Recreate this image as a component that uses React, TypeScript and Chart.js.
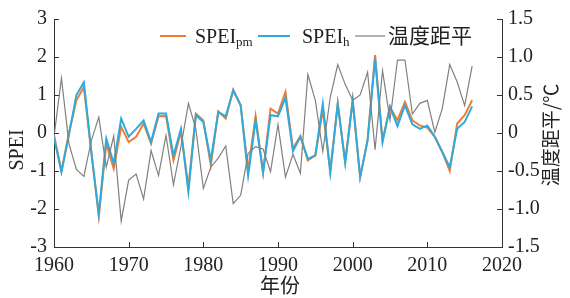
import React, { useEffect, useRef } from "react";
import { Chart, registerables } from "chart.js";

Chart.register(...registerables);

const years: number[] = [];
for (let y = 1960; y <= 2016; y++) years.push(y);

const speiPm = [
  -0.05, -1.0, 0.0, 0.86, 1.21, -0.5, -2.2, -0.28, -0.94, 0.16,
  -0.24, -0.1, 0.25, -0.28, 0.44, 0.45, -0.72, 0.03, -1.42, 0.51,
  0.33, -0.85, 0.57, 0.38, 1.14, 0.73, -0.98, 0.44, -1.03, 0.64,
  0.51, 1.08, -0.41, -0.08, -0.72, -0.59, 0.6, -1.0, 0.77, -0.76,
  0.86, -1.16, -0.19, 2.05, -0.2, 0.69, 0.33, 0.82, 0.33, 0.2,
  0.14, -0.1, -0.5, -1.0, 0.25, 0.47, 0.86,
];

const speiH = [
  -0.12, -1.03, -0.05, 1.0, 1.33, -0.5, -2.13, -0.15, -0.8, 0.38,
  -0.1, 0.11, 0.33, -0.24, 0.51, 0.51, -0.59, 0.11, -1.55, 0.47,
  0.29, -0.72, 0.55, 0.44, 1.12, 0.73, -1.12, 0.33, -1.05, 0.47,
  0.44, 0.93, -0.48, -0.1, -0.68, -0.59, 0.77, -1.05, 0.77, -0.79,
  0.86, -1.16, -0.19, 1.96, -0.24, 0.69, 0.18, 0.73, 0.23, 0.11,
  0.2, -0.1, -0.5, -0.9, 0.11, 0.29, 0.7,
];

const tempAnom = [
  -0.05, 0.72, -0.14, -0.48, -0.57, -0.1, 0.21, -0.45, -0.04, -1.16,
  -0.62, -0.54, -0.87, -0.23, -0.56, -0.03, -0.68, -0.18, 0.39, 0.05,
  -0.73, -0.45, -0.33, -0.17, -0.93, -0.82, -0.27, -0.18, -0.21, -0.51,
  0.11, -0.58, -0.28, -0.53, 0.77, 0.43, -0.24, 0.47, 0.9, 0.64,
  0.43, 0.5, 0.8, -0.22, 0.82, 0.17, 0.96, 0.96, 0.25, 0.39,
  0.43, 0.01, 0.32, 0.9, 0.67, 0.36, 0.88,
];

const leftTitle = "SPEI";
const rightTitle = "温度距平/℃";
const xTitle = "年份";
const legendItems = [
  { main: "SPEI", sub: "pm", color: "#F07D32", width: 2, x0: 160, x1: 186, tx: 195, cjk: false },
  { main: "SPEI", sub: "h", color: "#2EAADC", width: 2, x0: 258, x1: 290, tx: 302, cjk: false },
  { main: "温度距平", sub: "", color: "#808080", width: 1.2, x0: 355, x1: 385, tx: 388, cjk: true },
];

const SERIF = "'Liberation Serif', 'Times New Roman', 'Noto Sans CJK SC', serif";
const CJK = "'Noto Sans CJK SC', 'Liberation Serif', serif";
const AXIS = "#333333";

const decorPlugin = {
  id: "decor",
  afterDraw(chart: any) {
    const { ctx, chartArea, scales } = chart;
    const { left, right, bottom } = chartArea;
    ctx.save();
    ctx.strokeStyle = AXIS;
    ctx.lineWidth = 1;
    const tl = 5;
    scales.x.ticks.forEach((t: any) => {
      const px = Math.round(scales.x.getPixelForValue(t.value)) + 0.5;
      ctx.beginPath();
      ctx.moveTo(px, bottom);
      ctx.lineTo(px, bottom - tl);
      ctx.stroke();
    });
    scales.y.ticks.forEach((t: any) => {
      const py = Math.round(scales.y.getPixelForValue(t.value)) + 0.5;
      ctx.beginPath();
      ctx.moveTo(left, py);
      ctx.lineTo(left + tl, py);
      ctx.stroke();
    });
    scales.y1.ticks.forEach((t: any) => {
      const py = Math.round(scales.y1.getPixelForValue(t.value)) + 0.5;
      ctx.beginPath();
      ctx.moveTo(right, py);
      ctx.lineTo(right - tl, py);
      ctx.stroke();
    });

    ctx.fillStyle = "#222222";
    ctx.save();
    ctx.translate(18, 150);
    ctx.rotate(-Math.PI / 2);
    ctx.font = `20px ${SERIF}`;
    ctx.textAlign = "center";
    ctx.textBaseline = "middle";
    ctx.fillText(leftTitle, 0, 0);
    ctx.restore();

    ctx.save();
    ctx.translate(551, 135);
    ctx.rotate(-Math.PI / 2);
    ctx.font = `19px ${CJK}`;
    ctx.textAlign = "center";
    ctx.textBaseline = "middle";
    ctx.fillText(rightTitle, 0, 0);
    ctx.restore();

    ctx.font = `20px ${CJK}`;
    ctx.textAlign = "center";
    ctx.textBaseline = "middle";
    ctx.fillText(xTitle, (left + right) / 2 + 2, 285);

    const ly = 36;
    ctx.textAlign = "left";
    ctx.textBaseline = "alphabetic";
    legendItems.forEach((it) => {
      ctx.strokeStyle = it.color;
      ctx.lineWidth = it.width;
      ctx.beginPath();
      ctx.moveTo(it.x0, ly);
      ctx.lineTo(it.x1, ly);
      ctx.stroke();
      let x = it.tx;
      ctx.font = it.cjk ? `21px ${CJK}` : `20px ${SERIF}`;
      ctx.fillStyle = "#222222";
      ctx.fillText(it.main, x, ly + 7);
      x += ctx.measureText(it.main).width;
      if (it.sub) {
        ctx.font = `13px ${SERIF}`;
        ctx.fillText(it.sub, x, ly + 10);
      }
    });
    ctx.restore();
  },
};

export default function App() {
  const ref = useRef<HTMLCanvasElement | null>(null);
  useEffect(() => {
    document.body.style.margin = "0";
    if (!ref.current) return;
    const mk = (arr: number[]) => years.map((y, i) => ({ x: y, y: arr[i] }));
    const chart = new Chart(ref.current, {
      type: "line",
      data: {
        datasets: [
          {
            label: "SPEIpm",
            data: mk(speiPm),
            borderColor: legendItems[0].color,
            borderWidth: 2,
            pointRadius: 0,
            tension: 0,
            yAxisID: "y",
            order: 3,
          },
          {
            label: "SPEIh",
            data: mk(speiH),
            borderColor: legendItems[1].color,
            borderWidth: 2,
            pointRadius: 0,
            tension: 0,
            yAxisID: "y",
            order: 2,
          },
          {
            label: "温度距平",
            data: mk(tempAnom),
            borderColor: legendItems[2].color,
            borderWidth: 1.2,
            pointRadius: 0,
            tension: 0,
            yAxisID: "y1",
            order: 1,
          },
        ],
      },
      options: {
        responsive: false,
        animation: false,
        layout: { padding: { top: 19, left: 0, right: 0, bottom: 0 } },
        plugins: { legend: { display: false }, tooltip: { enabled: false } },
        scales: {
          x: {
            type: "linear",
            min: 1960,
            max: 2020,
            ticks: {
              stepSize: 10,
              color: "#222",
              font: { family: SERIF, size: 20 },
              padding: 7,
              maxRotation: 0,
              callback: (v: any) => String(v),
            },
            grid: { display: false, drawTicks: false },
            border: { display: true, color: AXIS, width: 1 },
            afterFit: (s: any) => {
              s.height = 51;
            },
          },
          y: {
            position: "left",
            min: -3,
            max: 3,
            ticks: {
              stepSize: 1,
              color: "#222",
              font: { family: SERIF, size: 20 },
              padding: 7,
            },
            grid: { display: false, drawTicks: false },
            border: { display: true, color: AXIS, width: 1 },
            afterFit: (s: any) => {
              s.width = 54;
            },
          },
          y1: {
            position: "right",
            min: -1.5,
            max: 1.5,
            ticks: {
              stepSize: 0.5,
              color: "#222",
              font: { family: SERIF, size: 20 },
              padding: 6,
              callback: (v: any) => (v === 0 ? "0" : Number(v).toFixed(1)),
            },
            grid: { display: false, drawTicks: false },
            border: { display: true, color: AXIS, width: 1 },
            afterFit: (s: any) => {
              s.width = 68;
            },
          },
        },
      },
      plugins: [decorPlugin],
    } as any);
    return () => chart.destroy();
  }, []);
  return (
    <div style={{ width: 570, height: 298, background: "#fff" }}>
      <canvas ref={ref} width={570} height={298} />
    </div>
  );
}
